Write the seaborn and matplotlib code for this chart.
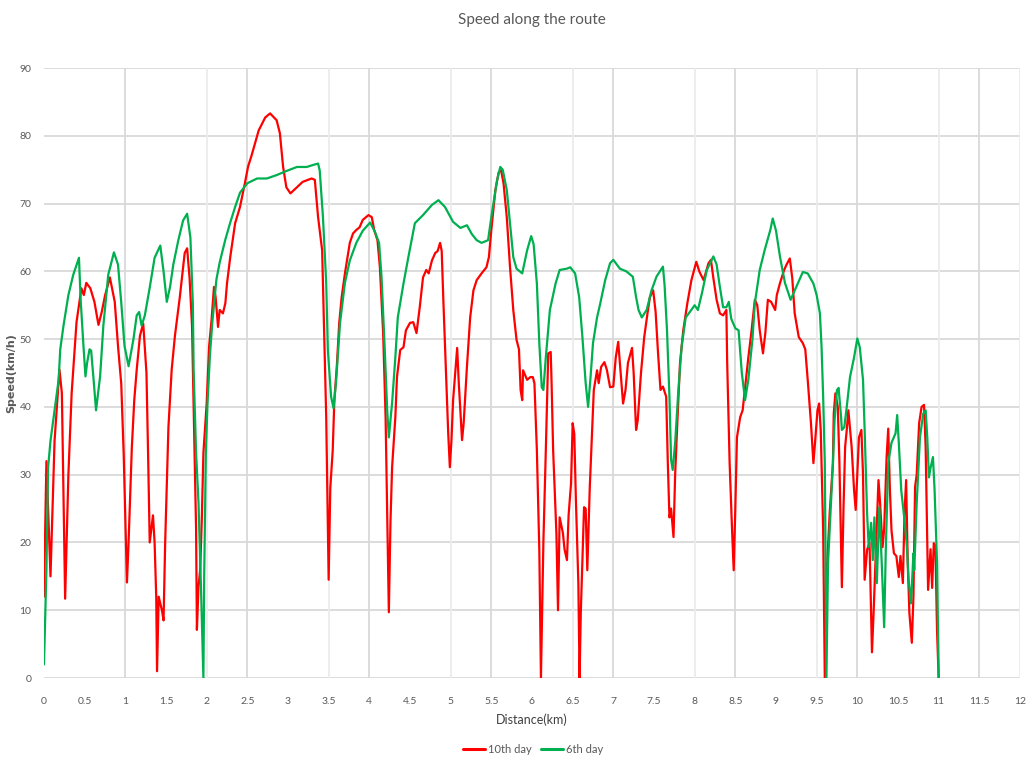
import numpy as np
import pandas as pd
import matplotlib
matplotlib.use("Agg")
import matplotlib.pyplot as plt
import seaborn as sns

# ---- data: distance (km) and speed (km/h) for each run ----
dist_10th = [0.00, 0.03, 0.08, 0.13, 0.19, 0.22, 0.26, 0.30, 0.34, 0.40, 0.46, 0.49, 0.52, 0.57, 0.62,
             0.67, 0.71, 0.75, 0.81, 0.87, 0.91, 0.95, 0.98, 1.02, 1.04, 1.08, 1.11, 1.14, 1.18, 1.22,
             1.26, 1.28, 1.30, 1.34, 1.36, 1.38, 1.39, 1.41, 1.45, 1.47, 1.49, 1.53, 1.57, 1.61, 1.67,
             1.73, 1.76, 1.79, 1.82, 1.84, 1.87, 1.88, 1.90, 1.92, 1.94, 1.96, 2.00, 2.03, 2.06, 2.09,
             2.11, 2.14, 2.16, 2.20, 2.23, 2.25, 2.29, 2.35, 2.41, 2.47, 2.51, 2.55, 2.64, 2.72, 2.78,
             2.86, 2.90, 2.94, 2.98, 3.03, 3.11, 3.18, 3.29, 3.33, 3.37, 3.42, 3.44, 3.47, 3.50, 3.52,
             3.55, 3.57, 3.60, 3.63, 3.66, 3.70, 3.76, 3.80, 3.84, 3.88, 3.92, 3.99, 4.03, 4.06, 4.10,
             4.13, 4.17, 4.20, 4.22, 4.24, 4.26, 4.28, 4.32, 4.34, 4.38, 4.42, 4.45, 4.50, 4.54, 4.58,
             4.62, 4.66, 4.70, 4.73, 4.77, 4.81, 4.84, 4.87, 4.89, 4.91, 4.94, 4.97, 4.99, 5.01, 5.03,
             5.05, 5.08, 5.10, 5.14, 5.16, 5.20, 5.24, 5.28, 5.32, 5.38, 5.44, 5.47, 5.50, 5.55, 5.59,
             5.62, 5.65, 5.69, 5.73, 5.77, 5.81, 5.84, 5.86, 5.88, 5.89, 5.94, 5.98, 6.01, 6.03, 6.06,
             6.09, 6.11, 6.14, 6.17, 6.20, 6.23, 6.24, 6.26, 6.30, 6.32, 6.34, 6.38, 6.40, 6.43, 6.45,
             6.48, 6.50, 6.52, 6.54, 6.57, 6.585, 6.60, 6.64, 6.66, 6.68, 6.71, 6.74, 6.76, 6.80, 6.82,
             6.85, 6.89, 6.92, 6.96, 7.00, 7.03, 7.06, 7.09, 7.12, 7.15, 7.18, 7.23, 7.25, 7.28, 7.30,
             7.34, 7.38, 7.42, 7.45, 7.49, 7.52, 7.55, 7.58, 7.61, 7.65, 7.67, 7.69, 7.71, 7.74, 7.76,
             7.79, 7.82, 7.86, 7.91, 7.96, 8.02, 8.06, 8.11, 8.17, 8.20, 8.23, 8.27, 8.31, 8.35, 8.39,
             8.40, 8.43, 8.46, 8.48, 8.50, 8.52, 8.56, 8.59, 8.62, 8.66, 8.70, 8.74, 8.77, 8.80, 8.84,
             8.87, 8.90, 8.94, 8.99, 9.01, 9.05, 9.10, 9.13, 9.17, 9.20, 9.23, 9.28, 9.33, 9.36, 9.39,
             9.43, 9.46, 9.48, 9.51, 9.53, 9.55, 9.58, 9.60, 9.63, 9.66, 9.70, 9.71, 9.73, 9.76, 9.78,
             9.81, 9.83, 9.85, 9.87, 9.89, 9.93, 9.96, 9.98, 10.00, 10.02, 10.05, 10.07, 10.09, 10.12, 10.15,
             10.18, 10.20, 10.23, 10.26, 10.28, 10.31, 10.33, 10.36, 10.38, 10.40, 10.42, 10.45, 10.48, 10.51, 10.53,
             10.56, 10.58, 10.60, 10.62, 10.64, 10.67, 10.69, 10.71, 10.73, 10.76, 10.79, 10.82, 10.84, 10.86, 10.87,
             10.90, 10.92, 10.94, 10.96, 10.98, 11.00]
speed_10th = [12, 32, 15, 35, 45.5, 42, 11.7, 30, 42, 52.5, 57.5, 56.5, 58.3, 57.5, 55.5,
              52.1, 54, 56.4, 59.1, 55.5, 49, 43.4, 33, 14.1, 20, 34, 41, 45.5, 50.5, 52.3,
              45, 33, 20, 24, 20, 12, 1, 12, 10, 8.5, 20, 37, 45.5, 50.5, 56.2,
              62.7, 63.4, 59, 52, 40, 22, 7.1, 13.5, 15.9, 23.3, 33.2, 40.5, 48.9, 52.8, 57.7,
              56.2, 51.8, 54.3, 53.8, 55.3, 58.2, 62.1, 67.1, 69.5, 73, 75.5, 77, 80.8, 82.7, 83.3,
              82.3, 80.4, 75.4, 72.4, 71.5, 72.4, 73.2, 73.7, 73.5, 68, 63.1, 53.2, 38.5, 14.5, 28,
              33.6, 41, 45.9, 52.4, 56.2, 59.7, 64.2, 65.6, 66.1, 66.5, 67.6, 68.3, 68, 66.1, 64.6,
              60.6, 50.9, 38.5, 23.7, 9.7, 23, 31.1, 38.5, 44.4, 48.4, 48.8, 51.3, 52.4, 52.5, 50.9,
              54.7, 59.1, 60.2, 59.7, 61.6, 62.7, 63, 64.2, 63, 55.8, 45.9, 36.1, 31.1, 35.1, 41,
              44, 48.7, 43.5, 35.1, 37.6, 45.9, 53.2, 57.2, 58.7, 59.7, 60.6, 62.1, 66.1, 72, 74.6,
              74.9, 73, 68, 60.6, 54.3, 49.9, 48.5, 42.5, 41, 45.4, 44, 44.4, 44.4, 43.5, 33.6,
              18.9, 0, 20, 33.6, 47.9, 48.1, 44, 33.6, 21.4, 10, 23.7, 21.4, 19, 17.4, 24,
              28.7, 37.6, 36, 26.2, 14, 0, 9.6, 25.2, 25, 15.9, 28, 36.6, 42.5, 45.4, 43.5,
              45.9, 46.6, 45.5, 42.9, 43, 47.3, 49.6, 45, 40.5, 42.5, 46.5, 48.7, 45, 36.6, 38,
              45, 50.3, 53.8, 56.2, 57.2, 54, 47.9, 42.5, 43, 41.5, 31.7, 23.7, 25, 20.8, 30,
              38.5, 46.5, 51.3, 55.3, 58.7, 61.4, 59.9, 58.7, 61.2, 61.7, 59, 55.8, 53.8, 53.5, 54.3,
              46.5, 31.7, 21.8, 15.9, 25, 35.5, 38.5, 39.5, 42.9, 47.3, 51.3, 55.8, 55, 51.3, 47.9,
              51, 55.8, 55.5, 54.3, 56.5, 58.3, 60.2, 61, 61.9, 59, 53.8, 50.3, 49.4, 48.5, 44,
              37.6, 31.7, 34.7, 39.5, 40.5, 36.6, 21.8, 0, 17, 24.3, 31.7, 39, 42, 40, 31.7,
              13.4, 25, 34.1, 36.6, 39.5, 34.1, 27.7, 24.8, 30, 35.5, 36.6, 30, 14.5, 18.9, 20,
              3.8, 9.6, 19.3, 29.2, 25.8, 19.3, 22, 32.6, 36.8, 28, 21.8, 18.4, 18, 14.9, 18,
              14, 24.3, 29.2, 17, 9.6, 5.2, 12, 28.2, 30, 37.6, 40, 40.3, 34.1, 19.9, 13,
              19, 13.3, 19.9, 19.5, 7, 0]

dist_6th = [0.00, 0.03, 0.05, 0.08, 0.135, 0.18, 0.20, 0.24, 0.30, 0.36, 0.43, 0.45, 0.48, 0.51, 0.53,
            0.56, 0.58, 0.61, 0.64, 0.69, 0.73, 0.79, 0.86, 0.91, 0.95, 0.99, 1.04, 1.10, 1.14, 1.17,
            1.20, 1.24, 1.30, 1.36, 1.43, 1.47, 1.51, 1.55, 1.59, 1.65, 1.71, 1.76, 1.80, 1.83, 1.84,
            1.87, 1.90, 1.93, 1.96, 1.97, 1.99, 2.01, 2.04, 2.07, 2.12, 2.16, 2.23, 2.29, 2.35, 2.41,
            2.50, 2.62, 2.74, 2.86, 2.98, 3.11, 3.23, 3.31, 3.37, 3.39, 3.43, 3.47, 3.49, 3.53, 3.56,
            3.59, 3.64, 3.70, 3.76, 3.84, 3.92, 4.01, 4.07, 4.12, 4.15, 4.19, 4.22, 4.24, 4.28, 4.32,
            4.35, 4.42, 4.48, 4.56, 4.66, 4.77, 4.85, 4.93, 5.03, 5.12, 5.20, 5.26, 5.32, 5.38, 5.46,
            5.50, 5.57, 5.61, 5.64, 5.69, 5.73, 5.77, 5.81, 5.88, 5.94, 5.99, 6.02, 6.06, 6.09, 6.12,
            6.14, 6.17, 6.22, 6.29, 6.34, 6.43, 6.47, 6.53, 6.58, 6.62, 6.66, 6.69, 6.72, 6.75, 6.80,
            6.84, 6.90, 6.96, 7.00, 7.08, 7.16, 7.24, 7.28, 7.31, 7.35, 7.41, 7.47, 7.53, 7.61, 7.63,
            7.66, 7.69, 7.71, 7.73, 7.76, 7.80, 7.84, 7.89, 7.94, 8.00, 8.04, 8.09, 8.15, 8.23, 8.27,
            8.31, 8.35, 8.39, 8.42, 8.45, 8.50, 8.54, 8.58, 8.62, 8.66, 8.71, 8.74, 8.80, 8.86, 8.93,
            8.96, 9.00, 9.05, 9.11, 9.18, 9.25, 9.33, 9.39, 9.46, 9.50, 9.54, 9.56, 9.58, 9.60, 9.61,
            9.62, 9.64, 9.68, 9.70, 9.72, 9.75, 9.77, 9.80, 9.81, 9.84, 9.87, 9.91, 9.96, 10.00, 10.03,
            10.07, 10.09, 10.12, 10.14, 10.17, 10.19, 10.21, 10.24, 10.27, 10.30, 10.33, 10.35, 10.38, 10.42, 10.47,
            10.49, 10.51, 10.54, 10.58, 10.61, 10.63, 10.66, 10.69, 10.70, 10.73, 10.77, 10.81, 10.84, 10.86, 10.88,
            10.90, 10.93, 10.95, 10.98, 11.00]
speed_6th = [2, 16, 31, 35, 40, 44, 48.5, 52, 56.5, 59.5, 62, 56, 50, 44.5, 46.5,
             48.5, 48.3, 44, 39.5, 44.5, 52, 59.5, 62.8, 61, 55.4, 49, 46, 50, 53.5, 54,
             52, 53.5, 57.6, 62, 63.8, 60, 55.5, 57.7, 61, 64.5, 67.5, 68.5, 65, 55.3, 45.4,
             33.2, 25.8, 13.4, 0, 15.2, 33.2, 40.3, 47.6, 52.5, 58.8, 61.3, 64.7, 67.2, 69.5, 71.6,
             73, 73.7, 73.7, 74.2, 74.8, 75.4, 75.4, 75.7, 75.9, 74.9, 68, 58.3, 48.4, 41.5, 39.8,
             43.5, 52.4, 58.3, 61.6, 64.2, 66, 67.2, 65.8, 64.2, 59.2, 48.4, 39.5, 35.5, 40.6, 47.3,
             53.2, 58.2, 62.1, 67.1, 68.3, 69.8, 70.5, 69.5, 67.3, 66.4, 66.8, 65.5, 64.6, 64.2, 64.6,
             68, 73.4, 75.4, 75, 72, 67.1, 62.1, 60.4, 59.7, 63.1, 65.2, 64, 58.2, 49.4, 42.9,
             42.5, 47.3, 54.3, 58.2, 60.2, 60.4, 60.6, 59.7, 56.2, 50.3, 43.5, 40, 44.4, 49.4, 53.2,
             55.3, 58.7, 61.2, 61.7, 60.4, 60, 59.2, 56.2, 54.3, 53.2, 54.3, 57.2, 59.2, 60.7, 58,
             51.3, 41.5, 32.2, 30.7, 34.7, 42.5, 48.9, 53.2, 54, 55, 54.3, 56.8, 60.2, 62.2, 61,
             57.7, 54.7, 54.7, 55.5, 53, 51.6, 51.3, 45, 41, 44, 49.9, 55.3, 60.2, 63.1, 66.1,
             67.8, 66, 62.1, 58.3, 55.8, 57.7, 59.9, 59.7, 58.2, 56.5, 53.8, 48.9, 41.5, 31.7, 17,
             0, 17, 26.7, 31.7, 38, 42.5, 42.8, 38.5, 36.6, 37, 40, 44.4, 47.3, 50.1, 48.8,
             44, 36.6, 24.3, 19.3, 22.9, 17.4, 23.7, 14, 25.2, 17, 7.5, 18.9, 31.7, 34.7, 36.1,
             38.8, 34.7, 27.7, 23.3, 19.3, 14.5, 11, 18.4, 15.9, 25.8, 35.5, 39, 39.5, 35.5, 29.6,
             31, 32.6, 27.7, 17, 0]

series_names = ["10th day", "6th day"]
series_colors = ["#FF0000", "#00B050"]

x_ticks = np.arange(0, 12.01, 0.5)
x_tick_labels = ["0", "0.5", "1", "1.5", "2", "2.5", "3", "3.5", "4", "4.5", "5", "5.5", "6",
                 "6.5", "7", "7.5", "8", "8.5", "9", "9.5", "10", "10.5", "11", "11.5", "12"]
y_ticks = list(range(0, 91, 10))
# vertical grid positions of the category gridlines (km)
v_grid = [1, 2, 2.5, 3.5, 4, 5, 5.5, 6.5, 7, 8, 8.5, 9.5, 10, 11, 11.5, 12]

df = pd.concat([
    pd.DataFrame({"Distance": dist_10th, "Speed": speed_10th, "Run": series_names[0]}),
    pd.DataFrame({"Distance": dist_6th, "Speed": speed_6th, "Run": series_names[1]}),
], ignore_index=True)

sns.set_theme(style="white")
plt.rcParams["font.family"] = ["Lato", "DejaVu Sans"]

fig = plt.figure(figsize=(10.35, 7.65), dpi=100)
ax = fig.add_axes([0.0425, 0.1137, 0.943, 0.7974])

for y in y_ticks:
    ax.axhline(y, color="#d9d9d9", lw=1.3, zorder=0)
for i, x in enumerate(v_grid):
    ax.axvline(x, color="#d9d9d9" if i % 2 == 0 else "#ececec", lw=1.3, zorder=0)

sns.lineplot(data=df, x="Distance", y="Speed", hue="Run", hue_order=series_names,
             palette=series_colors, sort=False, estimator=None, lw=1.6, ax=ax, legend=False)

ax.set_xlim(0, 12)
ax.set_ylim(0, 90)
ax.set_xticks(x_ticks)
ax.set_xticklabels(x_tick_labels)
ax.set_yticks(y_ticks)
for s in ax.spines.values():
    s.set_visible(False)
ax.tick_params(axis="both", length=0, labelsize=7.5, labelcolor="#595959")
ax.tick_params(axis="x", pad=14)
ax.tick_params(axis="y", pad=9)

ax.set_xlabel("Distance(km)", fontsize=9, color="#404040", labelpad=5)
ax.set_ylabel("")
fig.text(11 / 1035, 1 - 373 / 765, "Speed(km/h)", rotation=90, ha="center", va="center",
         fontsize=8, color="#595959", fontweight="bold", family=["DejaVu Sans"])
ax.set_title("Speed along the route", fontsize=11, color="#595959", pad=32)

handles = [plt.Line2D([], [], color=c, lw=2.2) for c in series_colors]
fig.legend(handles, series_names, loc="center", bbox_to_anchor=(0.515, 0.02), ncol=2,
           frameon=False, fontsize=8, handlelength=2.0, handletextpad=0.3, columnspacing=0.8,
           labelcolor="#595959")

fig.savefig("out.png", dpi=100)
